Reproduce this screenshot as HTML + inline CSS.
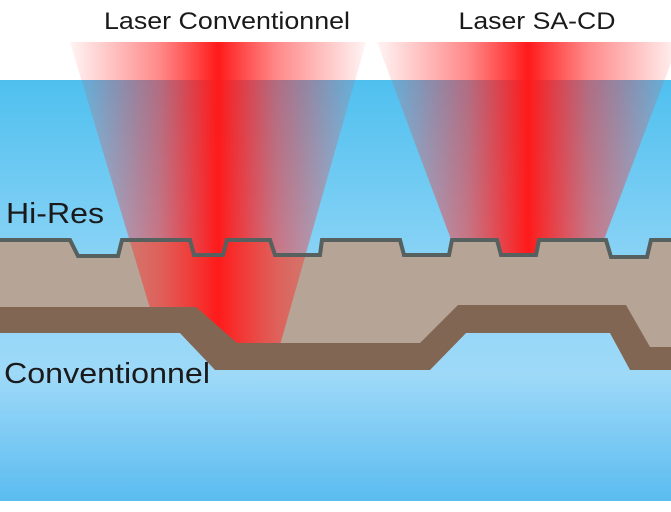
<!DOCTYPE html>
<html><head><meta charset="utf-8"><style>html,body{margin:0;padding:0;background:#fff}svg{display:block}</style></head><body>
<svg width="671" height="512" viewBox="0 0 671 512" xmlns="http://www.w3.org/2000/svg">
<defs>
<linearGradient id="bg" x1="0" y1="80" x2="0" y2="501" gradientUnits="userSpaceOnUse">
<stop offset="0" stop-color="#4fc0ef"/>
<stop offset="0.45" stop-color="#8dd4f6"/>
<stop offset="0.7" stop-color="#9ed9f8"/>
<stop offset="1" stop-color="#5bbcf0"/>
</linearGradient>
<linearGradient id="beam" x1="0" y1="0" x2="1" y2="0">
<stop offset="0" stop-color="#ff2a2a" stop-opacity="0.05"/>
<stop offset="0.3" stop-color="#ff2a2a" stop-opacity="0.55"/>
<stop offset="0.5" stop-color="#ff1a1a" stop-opacity="1"/>
<stop offset="0.7" stop-color="#ff2a2a" stop-opacity="0.55"/>
<stop offset="1" stop-color="#ff2a2a" stop-opacity="0.05"/>
</linearGradient>
</defs>
<rect x="0" y="80" width="671" height="421" fill="url(#bg)"/>
<polygon points="377,42 679,42 597,258 458,258" fill="url(#beam)"/>
<path d="M0,240 L70,240 L78,256 L118,256 L122,240 L190,240 L194,255 L223,255 L227,240 L270,240 L275,255 L320,255 L322,240 L400,240 L404,255 L449,255 L452,240 L497,240 L501,255 L536,255 L539,240 L606,240 L611,257 L647,257 L651,240 L671,240 L671,350 L0,350 Z" fill="#b6a596"/>
<polygon points="70,42 366,42 280,345 161,345" fill="url(#beam)"/>
<path d="M0,240 L70,240 L78,256 L118,256 L122,240 L190,240 L194,255 L223,255 L227,240 L270,240 L275,255 L320,255 L322,240 L400,240 L404,255 L449,255 L452,240 L497,240 L501,255 L536,255 L539,240 L606,240 L611,257 L647,257 L651,240 L671,240" fill="none" stroke="#56605f" stroke-width="4"/>
<path d="M0,333 L180,333 L215,370 L430,370 L466,333 L610,333 L630,370 L671,370 L671,501 L0,501 Z" fill="url(#bg)"/>
<path d="M0,307 L196,307 L237,343 L420,343 L458,305 L626,305 L650,347 L671,347 L671,370 L630,370 L610,333 L466,333 L430,370 L215,370 L180,333 L0,333 Z" fill="#816654"/>
<g font-family="Liberation Sans, sans-serif" fill="#1a1a1a">
<text x="227" y="29" font-size="24" text-anchor="middle" textLength="246" lengthAdjust="spacingAndGlyphs">Laser Conventionnel</text>
<text x="537" y="29" font-size="24" text-anchor="middle" textLength="157" lengthAdjust="spacingAndGlyphs">Laser SA-CD</text>
<text x="6" y="223" font-size="29" textLength="98" lengthAdjust="spacingAndGlyphs">Hi-Res</text>
<text x="4" y="383" font-size="29" textLength="206" lengthAdjust="spacingAndGlyphs">Conventionnel</text>
</g>
</svg>
</body></html>
